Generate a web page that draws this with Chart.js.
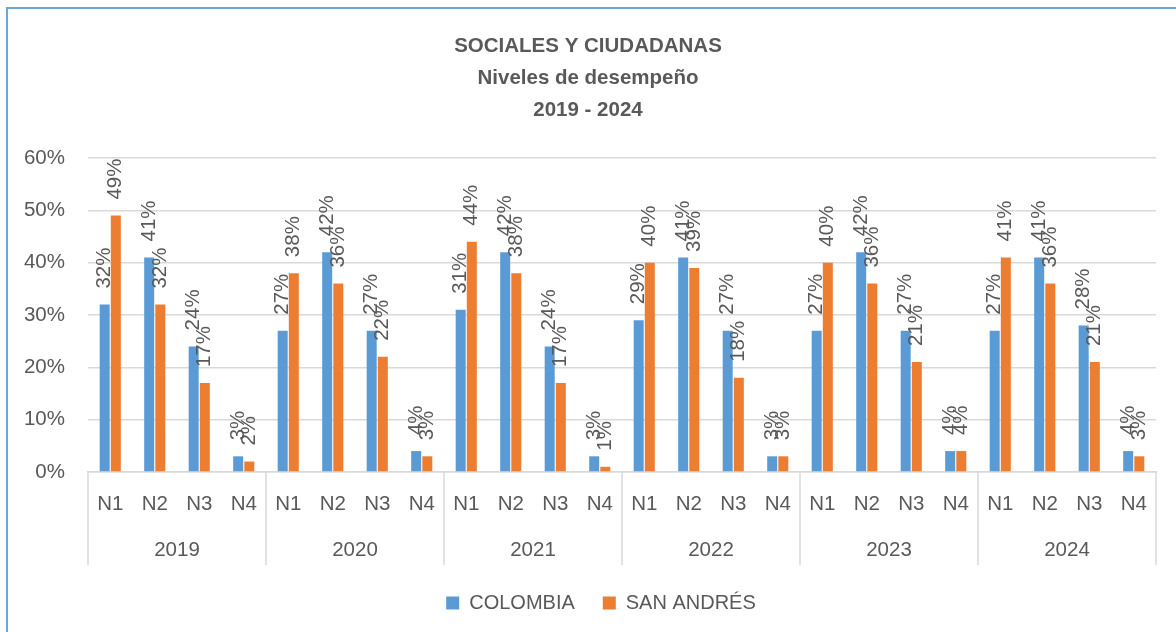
<!DOCTYPE html>
<html>
<head>
<meta charset="utf-8">
<script src="https://cdn.jsdelivr.net/npm/chart.js@4/dist/chart.umd.min.js"></script>
<style>
  html,body{margin:0;padding:0;background:#fff;}
  #wrap{position:relative;width:1176px;height:632px;overflow:hidden;}
  #frame{position:absolute;left:6px;top:7px;width:1300px;height:800px;border-left:2px solid #6aa6dc;border-top:2px solid #6aa6dc;box-sizing:border-box;}
  canvas{position:absolute;left:0;top:0;}
</style>
</head>
<body>
<div id="wrap">
  <canvas id="c" width="1176" height="632"></canvas>
  <div id="frame"></div>
</div>
<script>
const titleLines = ["SOCIALES Y CIUDADANAS", "Niveles de desempeño", "2019 - 2024"];
const years = ["2019", "2020", "2021", "2022", "2023", "2024"];
const levels = ["N1", "N2", "N3", "N4"];
const seriesNames = ["COLOMBIA", "SAN ANDRÉS"];
const colombia = [32, 41, 24, 3, 27, 42, 27, 4, 31, 42, 24, 3, 29, 41, 27, 3, 27, 42, 27, 4, 27, 41, 28, 4];
const sanAndres = [49, 32, 17, 2, 38, 36, 22, 3, 44, 38, 17, 1, 40, 39, 18, 3, 40, 36, 21, 4, 41, 36, 21, 3];
const yTicks = [0, 10, 20, 30, 40, 50, 60];

const FONT = "'Liberation Sans', Arial, sans-serif";
const TXT = '#595959';
const labels = [];
years.forEach(() => levels.forEach(l => labels.push(l)));

const legendShift = {
  id: 'legendShift',
  afterLayout(chart) {
    if (chart.legend) { chart.legend.left += 19; chart.legend.right += 19; }
  }
};

const extras = {
  id: 'extras',
  afterDraw(chart) {
    const ctx = chart.ctx;
    const xs = chart.scales.x;
    const area = chart.chartArea;
    ctx.save();
    // title
    ctx.fillStyle = TXT;
    ctx.font = "bold 20.5px " + FONT;
    ctx.textAlign = 'center';
    ctx.textBaseline = 'middle';
    titleLines.forEach((t, i) => ctx.fillText(t, chart.width / 2, 46 + i * 32));
    // group separators and year labels
    ctx.strokeStyle = '#d9d9d9';
    ctx.lineWidth = 1.5;
    const n = levels.length;
    const bounds = [];
    for (let g = 0; g <= years.length; g++) {
      let x;
      if (g === 0) x = area.left;
      else if (g === years.length) x = area.right;
      else x = (xs.getPixelForValue(g * n - 1) + xs.getPixelForValue(g * n)) / 2;
      bounds.push(x);
      ctx.beginPath();
      ctx.moveTo(x, area.bottom);
      ctx.lineTo(x, area.bottom + 93);
      ctx.stroke();
    }
    ctx.font = "20.5px " + FONT;
    ctx.fillStyle = TXT;
    years.forEach((y, g) => ctx.fillText(y, (bounds[g] + bounds[g + 1]) / 2, area.bottom + 78));
    // data labels
    ctx.font = "20.5px " + FONT;
    ctx.textAlign = 'left';
    ctx.textBaseline = 'middle';
    chart.data.datasets.forEach((ds, di) => {
      const meta = chart.getDatasetMeta(di);
      meta.data.forEach((bar, i) => {
        ctx.save();
        ctx.translate(bar.x, bar.y - 16);
        ctx.rotate(-Math.PI / 2);
        ctx.fillText(ds.data[i] + '%', 0, 0);
        ctx.restore();
      });
    });
    ctx.restore();
  }
};

new Chart(document.getElementById('c'), {
  type: 'bar',
  data: {
    labels: labels,
    datasets: [
      { label: seriesNames[0], data: colombia, backgroundColor: '#5B9BD5', categoryPercentage: 0.5, barPercentage: 0.9 },
      { label: seriesNames[1], data: sanAndres, backgroundColor: '#ED7D31', categoryPercentage: 0.5, barPercentage: 0.9 }
    ]
  },
  options: {
    responsive: false,
    animation: false,
    layout: { padding: { top: 158, left: 8, right: 20, bottom: 9 } },
    plugins: {
      title: { display: false },
      tooltip: { enabled: false },
      legend: {
        position: 'bottom',
        labels: {
          color: TXT,
          font: { size: 20, family: FONT },
          boxWidth: 13, boxHeight: 13,
          padding: 28
        }
      }
    },
    scales: {
      x: {
        grid: { display: false },
        border: { display: true, color: '#d9d9d9', width: 1.5 },
        ticks: { color: TXT, font: { size: 20.5, family: FONT }, padding: 12, maxRotation: 0, autoSkip: false },
        afterFit(s) { s.height = 93; }
      },
      y: {
        min: 0, max: 60,
        afterBuildTicks(s) { s.ticks = yTicks.map(v => ({ value: v })); },
        grid: { color: '#d9d9d9', lineWidth: 1.5, drawTicks: false },
        border: { display: false },
        ticks: { color: TXT, font: { size: 20.5, family: FONT }, padding: 23, callback: v => v + '%' },
        afterFit(s) { s.width = 80; }
      }
    }
  },
  plugins: [legendShift, extras]
});
</script>
</body>
</html>
